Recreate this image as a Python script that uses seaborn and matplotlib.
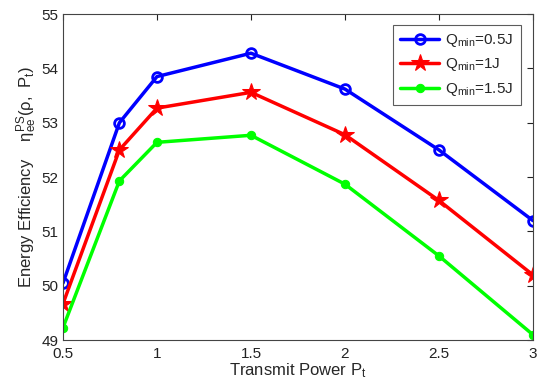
import numpy as np
import pandas as pd
import matplotlib
matplotlib.use('Agg')
import matplotlib.pyplot as plt
import seaborn as sns

# ── Data ──────────────────────────────────────────────────────
pt = [0.5, 0.8, 1.0, 1.5, 2.0, 2.5, 3.0]
ee_q05 = [50.05, 53.00, 53.85, 54.28, 53.62, 52.50, 51.20]
ee_q1 = [49.67, 52.50, 53.27, 53.56, 52.78, 51.57, 50.20]
ee_q15 = [49.23, 51.93, 52.64, 52.77, 51.87, 50.55, 49.10]
labels = [r'$Q_{min}$=0.5J', r'$Q_{min}$=1J', r'$Q_{min}$=1.5J']

sns.set_style('white')
plt.rcParams['font.family'] = ['Liberation Sans', 'DejaVu Sans']
plt.rcParams['mathtext.default'] = 'regular'

fig = plt.figure(figsize=(5.5, 3.91), dpi=100)
ax = fig.add_axes([0.1145, 0.130, 0.8545, 0.834])

styles = [
    dict(color='#0000ff', marker='o', markersize=7, markerfacecolor='none',
         markeredgewidth=2, markeredgecolor='#0000ff'),
    dict(color='#ff0000', marker='*', markersize=13, markeredgecolor='#ff0000'),
    dict(color='#00ff00', marker='o', markersize=6, markeredgecolor='#00ff00'),
]

for vals, lab, st in zip([ee_q05, ee_q1, ee_q15], labels, styles):
    df = pd.DataFrame({'pt': pt, 'ee': vals})
    sns.lineplot(data=df, x='pt', y='ee', ax=ax, label=lab, linewidth=2.5, **st)

ax.set_xlim(0.5, 3)
ax.set_ylim(49, 55)
ax.set_xticks([0.5, 1, 1.5, 2, 2.5, 3])
ax.set_xticklabels(['0.5', '1', '1.5', '2', '2.5', '3'])
ax.set_yticks([49, 50, 51, 52, 53, 54, 55])
ax.tick_params(direction='in', top=True, right=True, length=4, width=0.8,
               labelsize=11, colors='#222222', pad=3)
ax.tick_params(axis='x', pad=5)
for s in ax.spines.values():
    s.set_color('#444444')
    s.set_linewidth(0.8)

ax.set_xlabel(r'Transmit Power $P_t$', fontsize=12, labelpad=0)
ax.set_ylabel(r'Energy Efficiency    $\eta_{ee}^{PS}(\rho,\ P_t)$', fontsize=12, labelpad=2)

leg = ax.legend(loc='upper right', fontsize=11, frameon=True, fancybox=False,
                edgecolor='#333333', handlelength=2.6, borderpad=0.45,
                labelspacing=0.5, handletextpad=0.4, bbox_to_anchor=(0.99, 0.99))
leg.get_frame().set_linewidth(0.8)

plt.savefig('out.png', dpi=100)
plt.close()
